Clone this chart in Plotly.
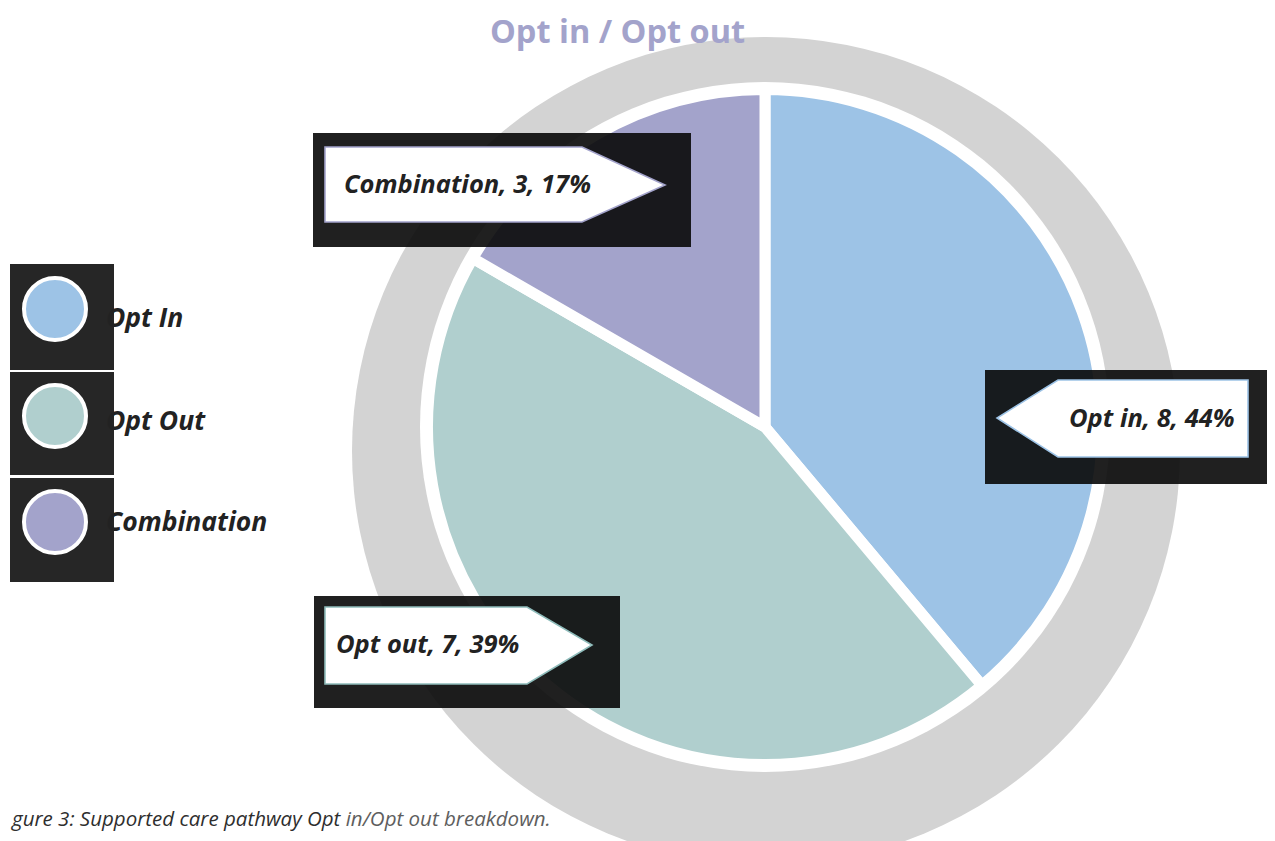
import plotly.graph_objects as go

# ---- data ----
categories = ["Opt in", "Opt out", "Combination"]
legend_names = ["Opt In", "Opt Out", "Combination"]
slice_values = [7, 8, 3]          # slice sizes as drawn (angles)
label_counts = [8, 7, 3]          # numbers printed in callouts
label_pcts = [44, 39, 17]         # percentages printed in callouts
colors = ["#9dc3e6", "#b0cfce", "#a3a3cb"]

title_text = "Opt in / Opt out"
caption_main = "gure 3: Supported care pathway Opt "
caption_tail = "in/Opt out breakdown."

W, H = 1275, 841
OFF = 8  # page body margin; coordinates below are page pixels
FONT = "Open Sans"

fig = go.Figure()

# pie (domain in paper coords)
cx, cy, R = 765, 427, 337.5
fig.add_trace(go.Pie(
    labels=categories, values=slice_values, sort=False, direction="clockwise",
    rotation=0, textinfo="none", hoverinfo="label+value+percent",
    marker=dict(colors=colors, line=dict(color="white", width=11)),
    domain=dict(x=[(cx - R - OFF) / W, (cx + R - OFF) / W],
                y=[1 - (cy + R - OFF) / H, 1 - (cy - R - OFF) / H]),
    showlegend=False,
))

# legend markers on hidden pixel axes
leg_y = [309, 416, 522]
fig.add_trace(go.Scatter(
    x=[55] * 3, y=leg_y, mode="markers",
    marker=dict(size=62, color=colors, line=dict(color="white", width=4)),
    showlegend=False, hoverinfo="text", text=legend_names,
))

shapes = []
# background rings
shapes.append(dict(type="circle", xref="x", yref="y", x0=352, x1=1180, y0=37, y1=865,
                   fillcolor="#d3d3d3", line=dict(width=0), layer="below"))
shapes.append(dict(type="circle", xref="x", yref="y", x0=420, x1=1110, y0=82, y1=772,
                   fillcolor="white", line=dict(width=0), layer="below"))
# legend dark boxes
for (y0, y1) in [(264, 370), (372, 475), (478, 582)]:
    shapes.append(dict(type="rect", xref="x", yref="y", x0=10, x1=114, y0=y0, y1=y1,
                       fillcolor="#262626", line=dict(width=0), layer="below"))

dark = "rgba(10,10,10,0.91)"
boxes = [
    (313, 691, 133, 247),   # Combination
    (985, 1290, 370, 484),  # Opt in
    (314, 620, 596, 708),   # Opt out
]
arrows = [
    "M325,147 L582,147 L665,185 L582,222 L325,222 Z",
    "M1248,380 L1058,380 L997,418 L1058,457 L1248,457 Z",
    "M325,607 L527,607 L592,645 L527,684 L325,684 Z",
]
arrow_cols = [colors[2], colors[0], "#8fbcbb"]
for (x0, x1, y0, y1), p, c in zip(boxes, arrows, arrow_cols):
    shapes.append(dict(type="rect", xref="x", yref="y", x0=x0, x1=x1, y0=y0, y1=y1,
                       fillcolor=dark, line=dict(width=0), layer="above"))
    shapes.append(dict(type="path", xref="x", yref="y", path=p,
                       fillcolor="white", line=dict(color=c, width=1.6), layer="above"))

annotations = []
lbl = [f"<b><i>{categories[i]}, {label_counts[i]}, {label_pcts[i]}%</i></b>" for i in range(3)]
annotations.append(dict(x=342, y=183, text=lbl[2], xanchor="left"))
annotations.append(dict(x=1237, y=417, text=lbl[0], xanchor="right"))
annotations.append(dict(x=334, y=643, text=lbl[1], xanchor="left"))
for a in annotations:
    a.update(xref="x", yref="y", showarrow=False, yanchor="middle",
             font=dict(family=FONT, size=25.5, color="#222222"))
# legend texts
for name, yy in zip(legend_names, [317, 420, 521]):
    annotations.append(dict(x=104, y=yy, text=f"<b><i>{name}</i></b>", xanchor="left",
                            xref="x", yref="y", showarrow=False, yanchor="middle",
                            font=dict(family=FONT, size=26.5, color="#222222")))
# title
annotations.append(dict(x=617, y=30, xref="x", yref="y", showarrow=False,
                        text=f"<b>{title_text}</b>", xanchor="center", yanchor="middle",
                        font=dict(family=FONT, size=32.5, color="#a3a3cb")))
# caption
annotations.append(dict(x=OFF + 1, y=818, xref="x", yref="y", showarrow=False,
                        text=f"<i>{caption_main}<span style='color:#5e5e5e'>{caption_tail}</span></i>",
                        xanchor="left", yanchor="middle",
                        font=dict(family=FONT, size=20.5, color="#2e2e2e")))

fig.update_layout(
    width=W, height=H, margin=dict(l=0, r=0, t=0, b=0),
    paper_bgcolor="white", plot_bgcolor="rgba(0,0,0,0)",
    xaxis=dict(range=[OFF, W + OFF], visible=False, fixedrange=True, domain=[0, 1]),
    yaxis=dict(range=[H + OFF, OFF], visible=False, fixedrange=True, domain=[0, 1]),
    shapes=shapes, annotations=annotations, showlegend=False,
)

fig.write_html("out.html")
